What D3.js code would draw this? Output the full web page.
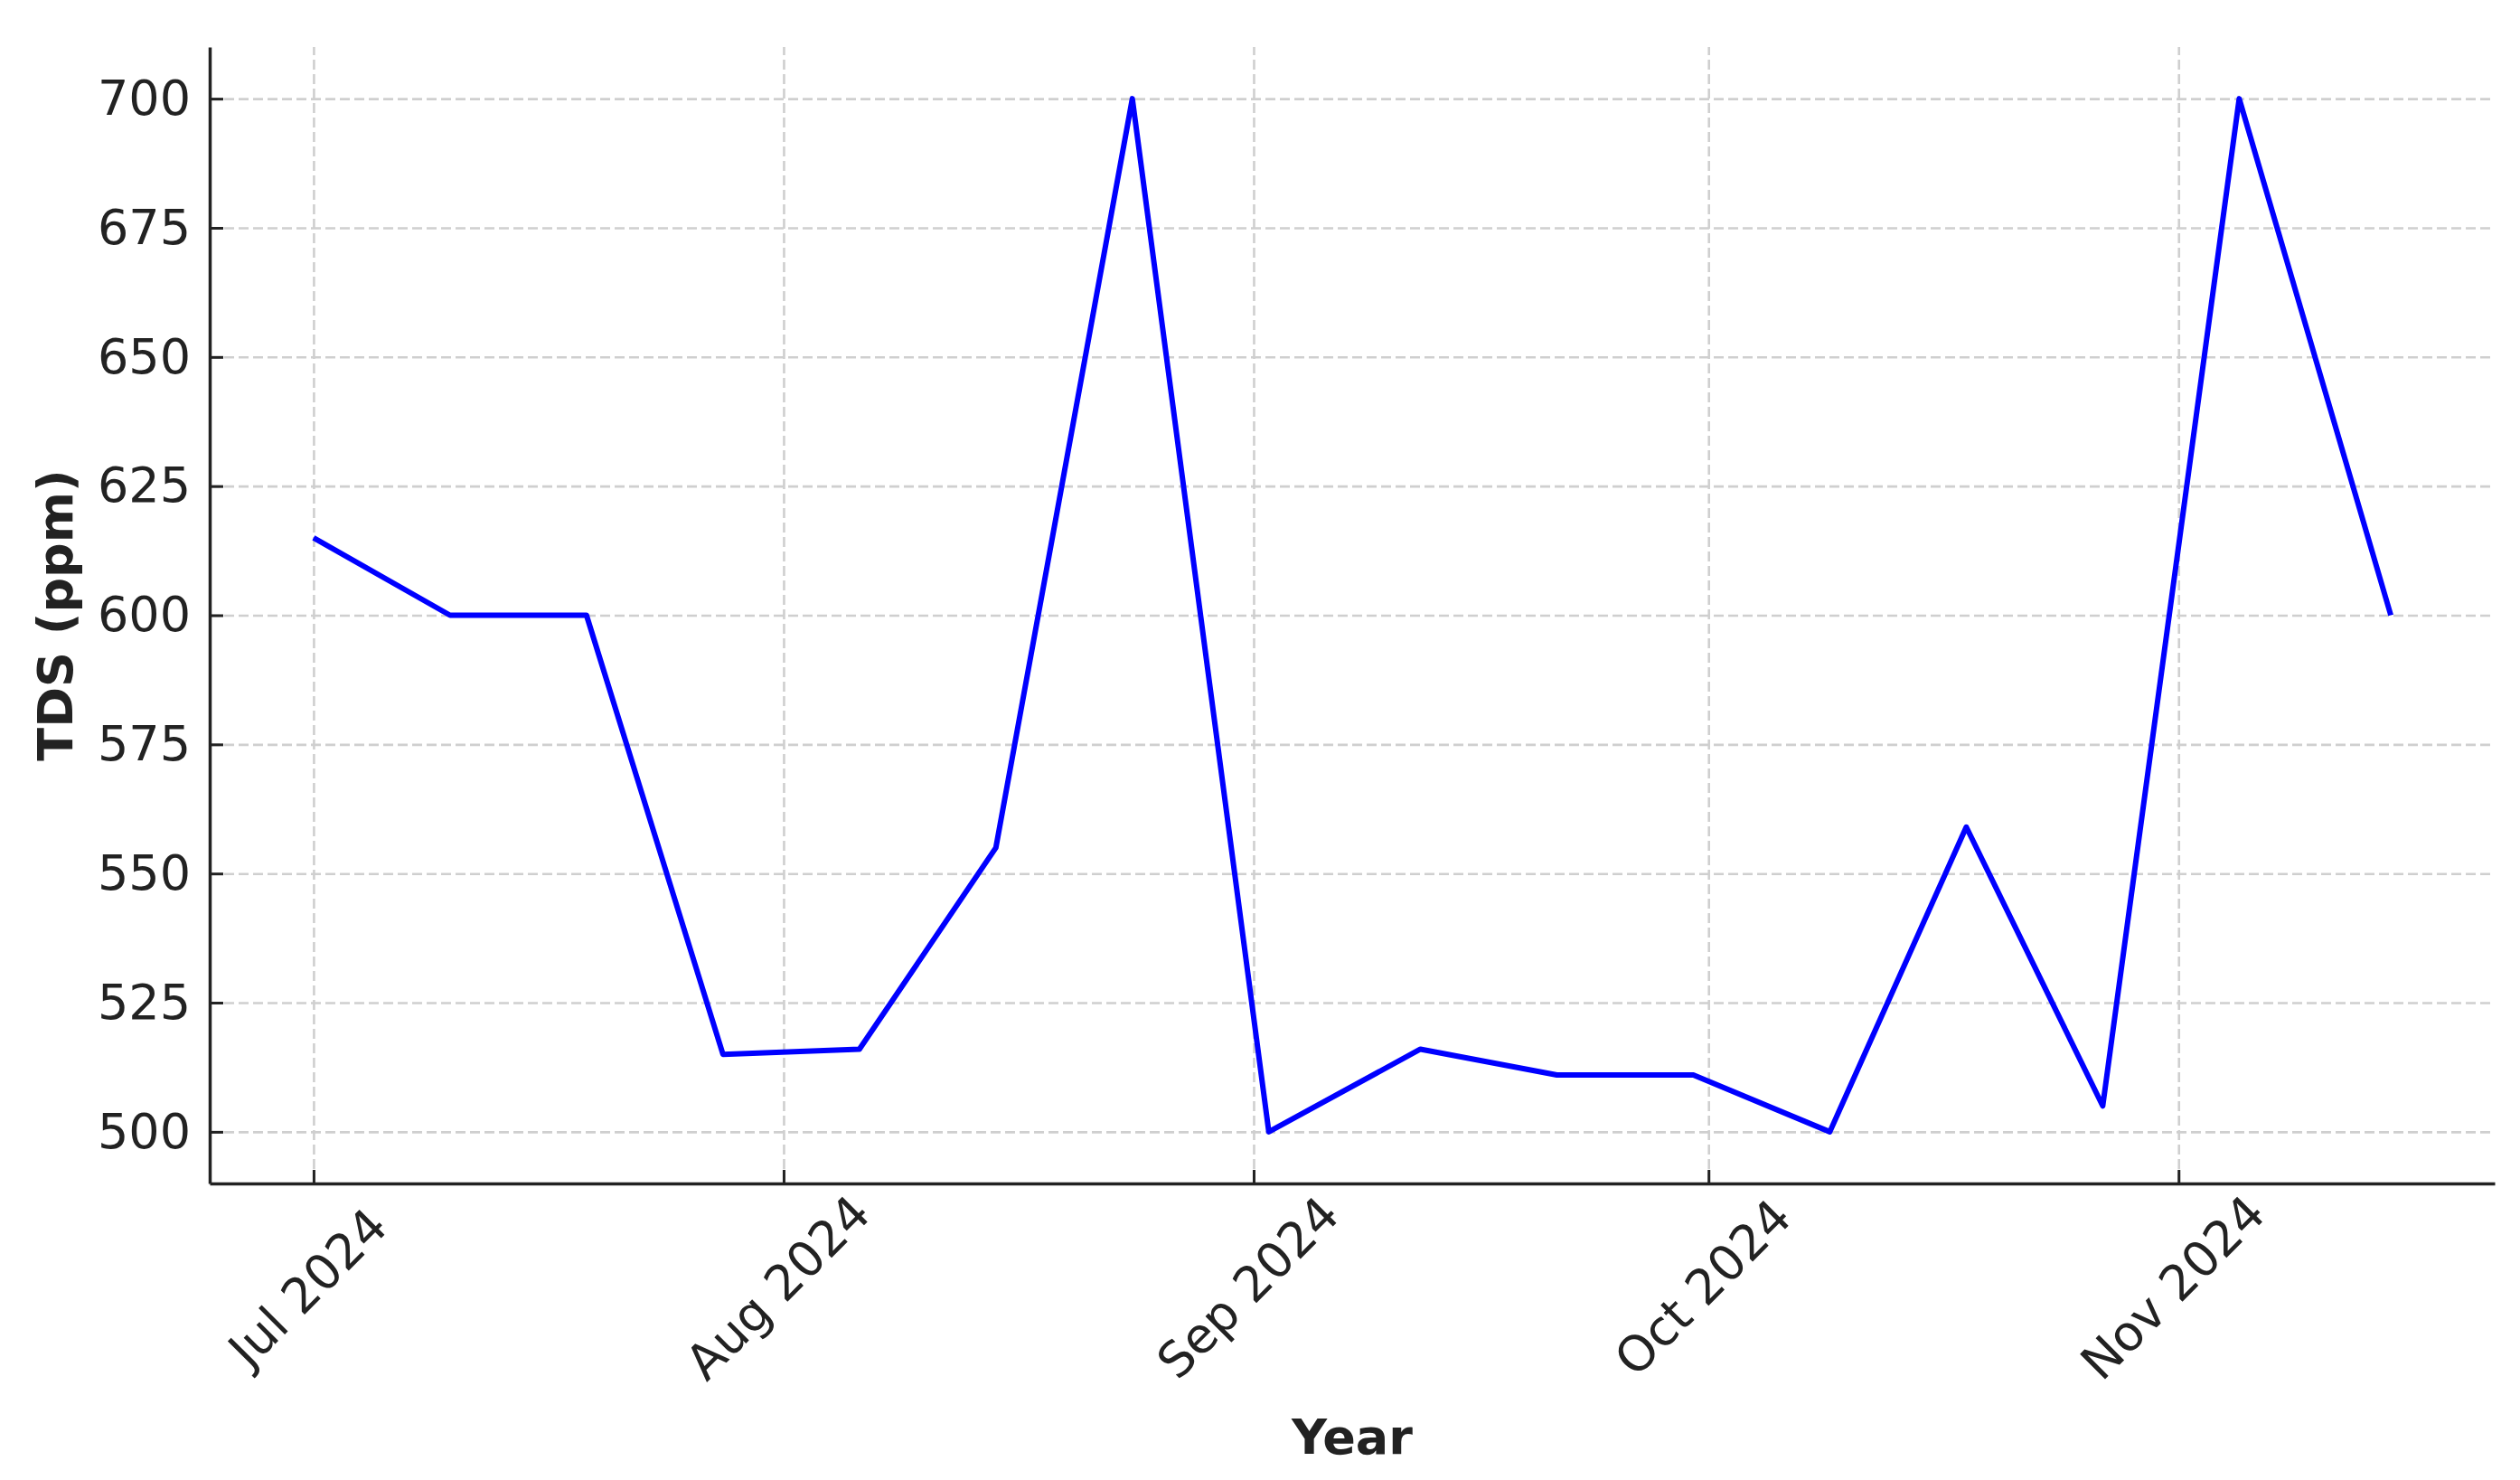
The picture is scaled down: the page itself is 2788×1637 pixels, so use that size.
<!DOCTYPE html>
<html>
<head>
<meta charset="utf-8">
<script src="https://cdn.jsdelivr.net/npm/d3@7"></script>
<style>
  html, body { margin: 0; padding: 0; background: #fff; }
  text { font-family: "DejaVu Sans", sans-serif; fill: #222; }
</style>
</head>
<body>
<div id="chart"></div>
<script>
// data
const dates = [
  "2024-07-01", "2024-07-10", "2024-07-19", "2024-07-28",
  "2024-08-06", "2024-08-15", "2024-08-24", "2024-09-02",
  "2024-09-12", "2024-09-21", "2024-09-30", "2024-10-09",
  "2024-10-18", "2024-10-27", "2024-11-05", "2024-11-15"
];
const tds = [615, 600, 600, 515, 516, 555, 700, 500, 516, 511, 511, 500, 559, 505, 700, 600];
const monthTicks = ["2024-07-01", "2024-08-01", "2024-09-01", "2024-10-01", "2024-11-01"];
const yTicks = [500, 525, 550, 575, 600, 625, 650, 675, 700];

const width = 2788;
const height = 1637;
const plotL = 232, plotR = 2760, plotT = 52, plotB = 1309;

const parseD = d3.utcParse("%Y-%m-%d");
const fmt = d3.utcFormat("%b %Y");

const points = dates.map((d, i) => ({ date: parseD(d), value: tds[i] }));
const ext = d3.extent(points, d => d.date);
const pad = (ext[1] - ext[0]) * 0.05;

const x = d3.scaleUtc()
  .domain([new Date(+ext[0] - pad), new Date(+ext[1] + pad)])
  .range([plotL, plotR]);
const y = d3.scaleLinear().domain([490, 710]).range([plotB, plotT]);

const svg = d3.select("#chart").append("svg")
  .attr("width", width)
  .attr("height", height);

// grid
const gridX = svg.append("g")
  .attr("transform", `translate(0,${plotB})`)
  .call(d3.axisBottom(x).tickValues(monthTicks.map(parseD)).tickSize(-(plotB - plotT)).tickFormat(""));
const gridY = svg.append("g")
  .attr("transform", `translate(${plotL},0)`)
  .call(d3.axisLeft(y).tickValues(yTicks).tickSize(-(plotR - plotL)).tickFormat(""));
[gridX, gridY].forEach(g => {
  g.select(".domain").remove();
  g.selectAll("line")
    .attr("stroke", "#cfcfcf")
    .attr("stroke-width", 2.6)
    .attr("stroke-dasharray", "11,5");
});

// line
const line = d3.line().x(d => x(d.date)).y(d => y(d.value));
svg.append("path")
  .datum(points)
  .attr("fill", "none")
  .attr("stroke", "#0000ff")
  .attr("stroke-width", 6)
  .attr("stroke-linejoin", "round")
  .attr("d", line);

// axes
const xAxis = svg.append("g")
  .attr("transform", `translate(0,${plotB})`)
  .call(d3.axisBottom(x).tickValues(monthTicks.map(parseD)).tickFormat(fmt)
    .tickSizeInner(-15).tickSizeOuter(0));
xAxis.selectAll("text")
  .attr("x", 0).attr("y", 0).attr("dy", "0.35em")
  .attr("text-anchor", "middle")
  .attr("transform", "translate(-7,115) rotate(-45)")
  .style("font-size", "54px");

const yAxis = svg.append("g")
  .attr("transform", `translate(${plotL},0)`)
  .call(d3.axisLeft(y).tickValues(yTicks).tickSizeInner(-15).tickSizeOuter(0).tickPadding(21));
yAxis.selectAll("text").style("font-size", "54px");

[xAxis, yAxis].forEach(g => {
  g.select(".domain").attr("stroke", "#222").attr("stroke-width", 3.5);
  g.selectAll(".tick line").attr("stroke", "#222").attr("stroke-width", 3);
  g.selectAll("text").attr("fill", "#222");
});

// labels
svg.append("text")
  .attr("x", (plotL + plotR) / 2)
  .attr("y", 1608)
  .attr("text-anchor", "middle")
  .style("font-size", "54px")
  .style("font-weight", "bold")
  .text("Year");

svg.append("text")
  .attr("transform", `translate(80,${(plotT + plotB) / 2}) rotate(-90)`)
  .attr("text-anchor", "middle")
  .style("font-size", "54px")
  .style("font-weight", "bold")
  .text("TDS (ppm)");
</script>
</body>
</html>
